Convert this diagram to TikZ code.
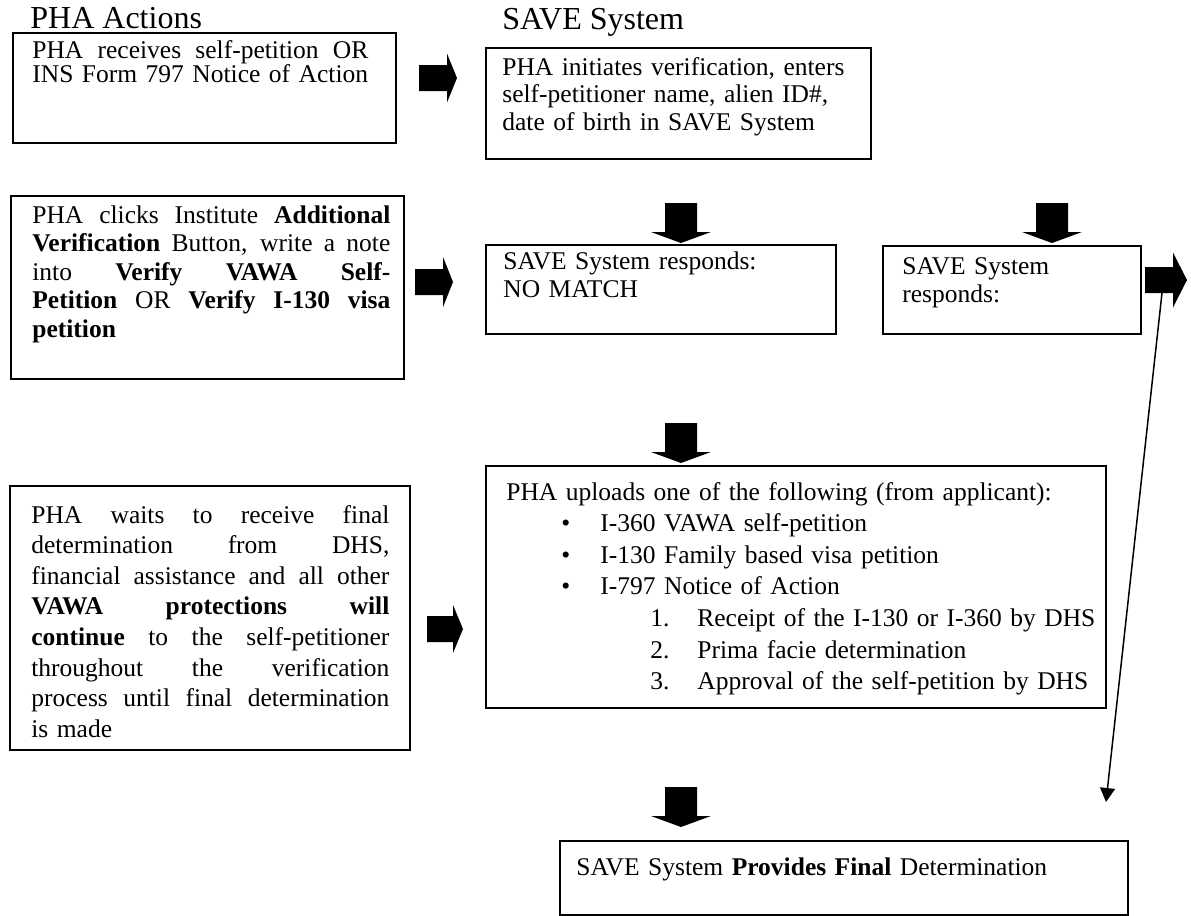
\documentclass[tikz,border=0pt]{standalone}
\usepackage{fontspec}
\setmainfont{Liberation Serif}
\usetikzlibrary{arrows.meta}
% right block arrow: left x, centre y, shaft length, head length, head half-height
\newcommand{\rblock}[5]{\fill (#1,#2-13) -- ++(#3,0) -- (#1+#3,#2-#5) -- (#1+#3+#4,#2) -- (#1+#3,#2+#5) -- (#1+#3,#2+13) -- (#1,#2+13) -- cycle;}
% down block arrow: centre x, top y
\newcommand{\dblock}[2]{\fill (#1-16,#2) -- (#1+16,#2) -- (#1+16,#2+29) -- (#1+30,#2+29) -- (#1,#2+40) -- (#1-30,#2+29) -- (#1-16,#2+29) -- cycle;}
\newcommand{\jline}[2]{\leavevmode\hbox to #1{\spaceskip=0.2em plus 1fil\relax #2}}
\begin{document}
\begin{tikzpicture}[x=0.5pt,y=-0.5pt,
  box/.style={draw, line width=1pt, inner sep=0pt, anchor=north west},
  txt/.style={inner sep=0pt, anchor=base west, align=left, text width=400pt},
  title/.style={inner sep=0pt, anchor=base west, font=\fontsize{16}{18}\selectfont}]
\useasboundingbox (0,0) rectangle (1191,916);
% titles
\node[title] (t1) at (30,28) {PHA Actions};
\node[title] (t2) at (502,29) {SAVE System};
% boxes
\node[box, minimum width=191.5pt, minimum height=55pt] (A) at (12,32) {};
\node[box, minimum width=192.5pt, minimum height=55.5pt] (B) at (485,47) {};
\node[box, minimum width=196.5pt, minimum height=91.5pt] (C) at (10,195) {};
\node[box, minimum width=175pt, minimum height=44.5pt] (D) at (485,244) {};
\node[box, minimum width=129pt, minimum height=44pt] (E) at (882,245) {};
\node[box, minimum width=310pt, minimum height=121pt] (F) at (485,465) {};
\node[box, minimum width=200pt, minimum height=132pt] (G) at (9,485) {};
\node[box, minimum width=284pt, minimum height=37pt] (H) at (559,840) {};
% texts
\node[txt, font=\fontsize{12.75}{12}\selectfont] (At) at (32,58)
  {\jline{168pt}{PHA receives self-petition OR}\\INS Form 797 Notice of Action};
\node[txt, font=\fontsize{12.75}{13.75}\selectfont] (Bt) at (502,75)
  {PHA initiates verification, enters\\self-petitioner name, alien ID\#,\\date of birth in SAVE System};
\node[txt, font=\fontsize{12.75}{14.25}\selectfont] (Ct) at (32,223)
  {\jline{179pt}{PHA clicks Institute \textbf{Additional}}\\
   \jline{179pt}{\textbf{Verification} Button, write a note}\\
   \jline{179pt}{into \textbf{Verify VAWA Self-}}\\
   \jline{179pt}{\textbf{Petition} OR \textbf{Verify I-130 visa}}\\
   \textbf{petition}};
\node[txt, font=\fontsize{12.75}{14}\selectfont] (Dt) at (503,269)
  {SAVE System responds:\\NO MATCH};
\node[txt, font=\fontsize{12.75}{14}\selectfont] (Et) at (902,274)
  {SAVE System\\responds:};
\node[txt, font=\fontsize{12.75}{15.8}\selectfont] (Ft) at (506,500)
  {PHA uploads one of the following (from applicant):\\
   \hspace*{27.5pt}\makebox[19.5pt][l]{\textbullet}I-360 VAWA self-petition\\
   \hspace*{27.5pt}\makebox[19.5pt][l]{\textbullet}I-130 Family based visa petition\\
   \hspace*{27.5pt}\makebox[19.5pt][l]{\textbullet}I-797 Notice of Action\\
   \hspace*{72pt}\makebox[23.5pt][l]{1.}Receipt of the I-130 or I-360 by DHS\\
   \hspace*{72pt}\makebox[23.5pt][l]{2.}Prima facie determination\\
   \hspace*{72pt}\makebox[23.5pt][l]{3.}Approval of the self-petition by DHS};
\node[txt, font=\fontsize{12.75}{15.3}\selectfont] (Gt) at (31,523)
  {\jline{179pt}{PHA waits to receive final}\\
   \jline{179pt}{determination from DHS,}\\
   \jline{179pt}{financial assistance and all other}\\
   \jline{179pt}{\textbf{VAWA protections will}}\\
   \jline{179pt}{\textbf{continue} to the self-petitioner}\\
   \jline{179pt}{throughout the verification}\\
   \jline{179pt}{process until final determination}\\
   is made};
\node[txt, font=\fontsize{12.75}{14}\selectfont] (Ht) at (576,875)
  {SAVE System \textbf{Provides Final} Determination};
% block arrows
\rblock{419}{78}{28}{10}{24.5}
\rblock{415}{282}{28}{10}{25}
\rblock{1145}{280}{28}{14}{27.5}
\rblock{427}{629}{26}{10}{24}
\dblock{681}{203}
\dblock{1052}{203}
\dblock{681}{423}
\dblock{681}{787}
% thin arrow
\coordinate (s1) at (1162,293);
\coordinate (s2) at (1106,802);
\draw[line width=0.75pt, -{Triangle[length=7pt,width=7.5pt]}] (s1) -- (s2);
\end{tikzpicture}
\end{document}
